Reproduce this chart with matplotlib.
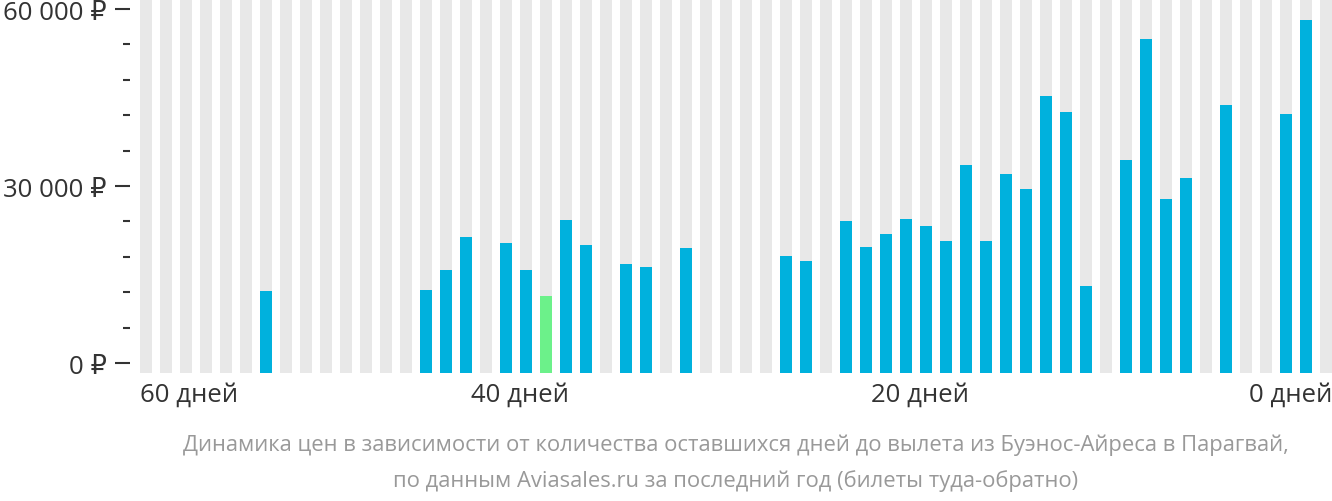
import matplotlib
matplotlib.use("Agg")
import matplotlib.pyplot as plt
from matplotlib.ticker import FixedLocator, MultipleLocator

plt.rcParams["font.family"] = ["Open Sans", "DejaVu Sans"]

# days before departure, left (59) to right (0); None = no data
DAYS = list(range(59, -1, -1))
PRICES = [
    None, None, None, None, None, None, 12200, None, None, None,
    None, None, None, None, 12370, 15760, 21360, None, 20340, 15760,
    11360, 24240, 20000, None, 16780, 16270, None, 19490, None, None,
    None, None, 18140, 17290, None, 24070, 19660, 21870, 24410, 23220,
    20680, 33560, 20680, 32040, 29490, 45260, 42540, 13050, None, 34410,
    54920, 27800, 31360, None, 43730, None, None, 42210, 58140, None,
]
CHEAPEST_DAY = 39
Y_TICKS = [0, 30000, 60000]
Y_LABELS = ["0 ₽", "30 000 ₽", "60 000 ₽"]
X_LABELS = ["60 дней", "40 дней", "20 дней", "0 дней"]
CAPTION = [
    "Динамика цен в зависимости от количества оставшихся дней до вылета из Буэнос-Айреса в Парагвай,",
    "по данным Aviasales.ru за последний год (билеты туда-обратно)",
]

BLUE = "#00b1dd"
GREEN = "#6cf18a"
GRAY = "#e8e8e8"
DARK = "#333333"
CAP = "#999999"

W, H = 1332, 502
BAR_W = 0.6
Y_LO, Y_HI = -1695, 61700

fig = plt.figure(figsize=(W / 100, H / 100), dpi=100)
ax = fig.add_axes([140 / W, 1 - 374 / H, 1192 / W, 374 / H])

x = list(range(len(DAYS)))
ax.bar(x, [Y_HI - Y_LO] * len(x), BAR_W, bottom=Y_LO, color=GRAY, align="center")
for xi, d, p in zip(x, DAYS, PRICES):
    if p is None:
        continue
    c = GREEN if d == CHEAPEST_DAY else BLUE
    ax.bar(xi, p - Y_LO, BAR_W, bottom=Y_LO, color=c)

ax.set_xlim(-BAR_W / 2, len(x) - 1 + BAR_W / 2)
ax.set_ylim(Y_LO, Y_HI)

for s in ("top", "right", "bottom"):
    ax.spines[s].set_visible(False)
ax.spines["left"].set_position(("outward", 7))
ax.spines["left"].set_color("none")

ax.yaxis.set_major_locator(FixedLocator(Y_TICKS))
ax.set_yticklabels(Y_LABELS)
ax.yaxis.set_minor_locator(MultipleLocator(6000))
ax.tick_params(axis="y", which="major", length=10.5, width=1.5, color=DARK,
               labelsize=18.5, labelcolor=DARK, pad=6.5)
ax.tick_params(axis="y", which="minor", length=5, width=1.5, color=DARK)

# tick labels: ends aligned to the plot edges, middle ones at bar left edge
xt = [-BAR_W / 2, DAYS.index(40) - BAR_W / 2, DAYS.index(20) - BAR_W / 2, len(x) - 1 + BAR_W / 2]
ax.set_xticks(xt)
ax.set_xticklabels(X_LABELS)
ax.tick_params(axis="x", length=0, labelsize=18.5, labelcolor=DARK, pad=6)
labs = ax.get_xticklabels()
labs[0].set_ha("left")
labs[-1].set_ha("right")

fig.text(736 / W, 1 - 445 / H, CAPTION[0], ha="center", va="center", fontsize=15.8, color=CAP)
fig.text(736 / W, 1 - 481 / H, CAPTION[1], ha="center", va="center", fontsize=15.8, color=CAP)

fig.savefig("out.png", dpi=100)
